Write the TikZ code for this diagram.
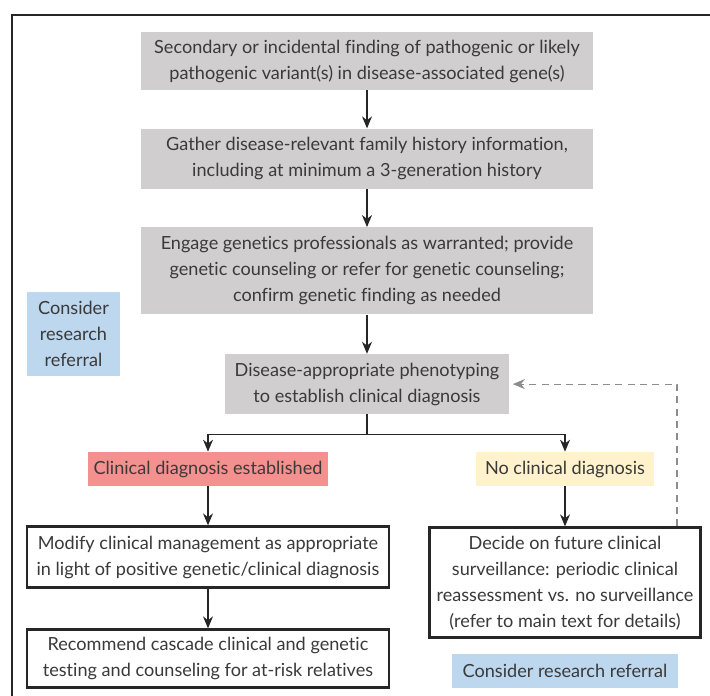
\documentclass[tikz,border=0pt]{standalone}
\usepackage{fontspec}
\setmainfont{Lato}[Ligatures=NoCommon]
\usepackage{tikz}
\usetikzlibrary{arrows.meta,positioning}

\definecolor{boxgrey}{HTML}{D0CECE}
\definecolor{dxred}{HTML}{F4918E}
\definecolor{nodxyellow}{HTML}{FFF2CC}
\definecolor{referblue}{HTML}{BDD7EE}
\definecolor{inkgrey}{HTML}{3A3A3A}

\begin{document}
\begin{tikzpicture}[
  box/.style={inner sep=0pt, align=center, text=inkgrey, font=\fontsize{10.3}{14.8}\selectfont},
  grey/.style={box, fill=boxgrey},
  bold/.style={box, draw=black!85, line width=1.7pt, fill=white},
  tag/.style={box, minimum height=0.68cm},
  arr/.style={-{Stealth[length=2.4mm, width=2mm]}, draw=black!85, line width=0.6pt},
  back/.style={-{Stealth[length=2.4mm, width=2mm]}, draw=black!45, line width=0.6pt, dashed, dash pattern=on 4pt off 3pt}
]
\useasboundingbox (0,0) rectangle (14.2,-13.92);
\clip (0,0) rectangle (14.2,-13.92);
\draw[line width=1.3pt, draw=black!85] (0.24,-0.30) rectangle (14.8,-14.4);

% main column
\node[grey, minimum width=9.04cm, minimum height=1.16cm] (find) at (7.34,-1.22)
  {Secondary or incidental finding of pathogenic or likely\\ pathogenic variant(s) in disease-associated gene(s)};
\node[grey, minimum width=9.04cm, minimum height=1.2cm, below=0.76cm of find] (hist)
  {Gather disease-relevant family history information,\\ including at minimum a 3-generation history};
\node[grey, minimum width=9.04cm, minimum height=1.74cm, below=0.76cm of hist] (gc)
  {Engage genetics professionals as warranted; provide\\ genetic counseling or refer for genetic counseling;\\ confirm genetic finding as needed};
\node[grey, minimum width=5.68cm, minimum height=1.2cm, below=0.78cm of gc] (pheno)
  {Disease-appropriate phenotyping\\ to establish clinical diagnosis};

% branches
\node[tag, fill=dxred, minimum width=4.8cm] (dx) at (4.16,-9.38) {Clinical diagnosis established};
\node[tag, fill=nodxyellow, minimum width=3.56cm] (nodx) at (11.3,-9.38) {No clinical diagnosis};
\node[bold, minimum width=7.24cm, minimum height=1.22cm, below=0.78cm of dx] (manage)
  {Modify clinical management as appropriate\\ in light of positive genetic/clinical diagnosis};
\node[bold, minimum width=7.24cm, minimum height=1.16cm, below=0.78cm of manage] (cascade)
  {Recommend cascade clinical and genetic\\ testing and counseling for at-risk relatives};
\node[bold, minimum width=5.42cm, minimum height=2.2cm, below=0.8cm of nodx] (decide)
  {Decide on future clinical\\ surveillance: periodic clinical\\ reassessment vs. no surveillance\\ (refer to main text for details)};

% research referral
\node[tag, fill=referblue, minimum width=1.86cm, minimum height=1.68cm] (refer1) at (1.47,-6.68)
  {Consider\\ research\\ referral};
\node[tag, fill=referblue, minimum width=4.52cm, below=0.28cm of decide] (refer2) {Consider research referral};

\draw[arr] (find) -- (hist);
\draw[arr] (hist) -- (gc);
\draw[arr] (gc) -- (pheno);
\draw[arr] (pheno.south) -- ++(0,-0.4) -| (dx.north);
\draw[arr] (pheno.south) -- ++(0,-0.4) -| (nodx.north);
\draw[arr] (dx) -- (manage);
\draw[arr] (manage) -- (cascade);
\draw[arr] (nodx) -- (decide);
\draw[back] ([xshift=-0.5cm]decide.north east) |- ([xshift=2pt]pheno.east);
\end{tikzpicture}
\end{document}
